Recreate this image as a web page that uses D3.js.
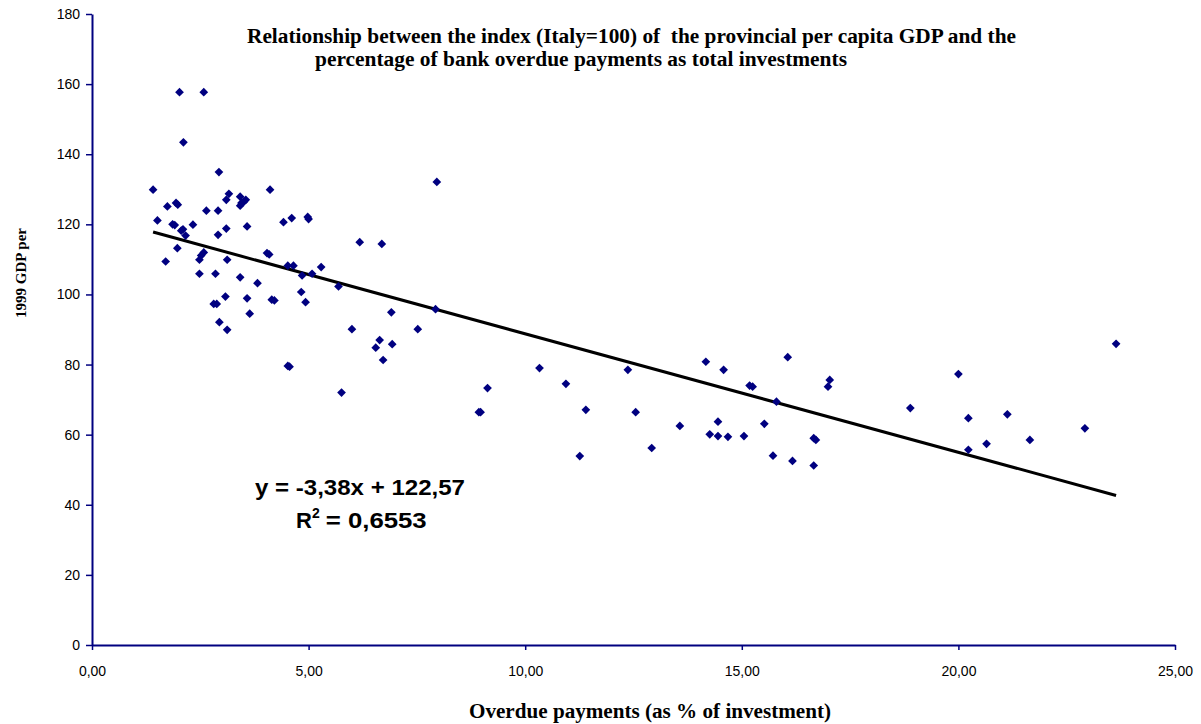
<!DOCTYPE html>
<html>
<head>
<meta charset="utf-8">
<script src="https://cdn.jsdelivr.net/npm/d3@7"></script>
<style>
    body { margin: 0; background: #ffffff; }
    svg { display: block; }
</style>
</head>
<body>
<svg id="svg"></svg>
<script>
// overdue payments (% of investment) for each province
let overdue = [
    1.41, 1.51, 1.74, 1.94, 1.98, 2.02, 2.58, 2.11, 2.93, 4.11,
    4.42, 4.61, 4.98, 5.00, 6.18, 6.69, 7.96, 3.16, 3.10, 3.42,
    3.55, 3.45, 3.42, 3.50, 3.58, 2.33, 2.64, 2.91, 2.91, 3.10,
    1.86, 1.91, 2.06, 2.10, 2.16, 1.97, 1.70, 2.58, 2.52, 2.48,
    3.12, 4.04, 4.09, 4.52, 4.65, 5.29, 2.48, 2.85, 3.42, 3.82,
    4.85, 5.08, 5.69, 4.83, 4.93, 3.08, 3.58, 2.81, 2.88, 4.15,
    4.21, 3.64, 2.94, 3.12, 7.93, 6.91, 7.52, 6.00, 6.64, 6.55,
    6.93, 6.72, 4.52, 4.56, 5.76, 9.13, 8.93, 8.97, 10.33, 10.94,
    11.40, 11.26, 12.37, 12.55, 12.92, 13.57, 14.17, 14.58, 14.45, 14.26,
    14.45, 14.68, 15.05, 15.18, 15.25, 15.52, 15.80, 16.06, 15.72, 16.17,
    16.66, 16.71, 16.66, 17.03, 16.99, 18.89, 20.00, 20.23, 20.23, 20.65,
    21.13, 21.65, 22.92, 23.64
];

// 1999 per capita GDP index (Italy=100), same order
let gdpIndex = [
    129.9, 121.1, 125.1, 126.1, 125.6, 157.7, 157.7, 143.4, 134.9, 129.9,
    120.6, 121.8, 122.1, 121.5, 114.9, 114.4, 132.1, 128.7, 127.0, 127.9,
    127.0, 126.1, 125.3, 126.4, 119.4, 119.9, 123.9, 123.9, 117.0, 118.8,
    120.0, 119.8, 118.2, 118.6, 116.8, 113.2, 109.4, 112.0, 111.1, 109.9,
    109.9, 111.8, 111.4, 108.2, 108.2, 107.8, 105.9, 105.9, 104.9, 103.2,
    105.4, 105.9, 102.3, 100.7, 97.8, 99.4, 98.9, 97.3, 97.3, 98.5,
    98.3, 94.5, 92.1, 89.9, 95.8, 94.9, 90.1, 90.1, 87.0, 84.8,
    85.8, 81.3, 79.6, 79.4, 72.0, 73.3, 66.4, 66.4, 79.0, 74.5,
    67.1, 53.9, 78.5, 66.4, 56.2, 62.5, 80.8, 78.5, 63.7, 60.1,
    59.6, 59.4, 59.6, 74.0, 73.7, 63.1, 69.4, 82.1, 54.0, 52.5,
    59.0, 58.5, 51.2, 75.6, 73.7, 67.6, 77.3, 64.7, 55.7, 57.4,
    65.8, 58.5, 61.8, 85.9
];

// linear trend shown on the chart
let slope = -3.38;
let intercept = 122.57;
let rSquared = "0,6553";

let xTicks = [0, 5, 10, 15, 20, 25];
let yTicks = [0, 20, 40, 60, 80, 100, 120, 140, 160, 180];

const width = 1201;
const height = 724;

let svg = d3.select("#svg")
    .attr("width", width)
    .attr("height", height);

svg.append("rect")
    .attr("width", width)
    .attr("height", height)
    .attr("fill", "#ffffff");

const margin = { top: 14, right: 30, bottom: 79, left: 92 };

let xScale = d3.scaleLinear()
    .domain([0, 25])
    .range([margin.left, 1175]);

let yScale = d3.scaleLinear()
    .domain([0, 180])
    .range([height - margin.bottom, margin.top]);

// numbers with a decimal comma (and a plain hyphen for minus, like the original)
let itLocale = d3.formatLocale({ decimal: ",", thousands: ".", grouping: [3], currency: ["", "€"], minus: "-" });
let fmt2 = itLocale.format(".2f");

let axisColor = "#000080";

// y axis
let yAxis = svg.append("g")
    .attr("transform", `translate(${margin.left},0)`)
    .call(d3.axisLeft(yScale).tickValues(yTicks).tickSize(6).tickPadding(6).tickSizeOuter(0));

// x axis
let xAxis = svg.append("g")
    .attr("transform", `translate(0,${yScale(0)})`)
    .call(d3.axisBottom(xScale).tickValues(xTicks).tickFormat(fmt2).tickSize(5).tickPadding(16).tickSizeOuter(0));

[xAxis, yAxis].forEach(function (g) {
    g.select(".domain").attr("stroke", axisColor).attr("stroke-width", 2);
    g.selectAll(".tick line").attr("stroke", axisColor).attr("stroke-width", 1.5);
    g.selectAll(".tick text")
        .attr("fill", "#000000")
        .style("font-family", "Liberation Sans, Arial, sans-serif")
        .style("font-size", "14px");
});

// trend line across the data range
let xMin = d3.min(overdue);
let xMax = d3.max(overdue);
let trend = [xMin, xMax].map(x => [x, slope * x + intercept]);

svg.append("path")
    .datum(trend)
    .attr("fill", "none")
    .attr("stroke", "#000000")
    .attr("stroke-width", 3)
    .attr("d", d3.line().x(d => xScale(d[0])).y(d => yScale(d[1])));

// diamond markers
let points = overdue.map((x, i) => ({ x: x, y: gdpIndex[i] }));
let diamond = d3.symbol().type(d3.symbolSquare).size(38);

svg.append("g")
    .selectAll("path")
    .data(points)
    .enter()
    .append("path")
        .attr("d", diamond)
        .attr("transform", d => `translate(${xScale(d.x)},${yScale(d.y)}) rotate(45)`)
        .attr("fill", "#000080");

// title, stretched to the width of the original lines
let serif = "Liberation Serif, Times New Roman, serif";

svg.append("text")
    .attr("x", 247)
    .attr("y", 43)
    .attr("textLength", 769)
    .attr("lengthAdjust", "spacingAndGlyphs")
    .attr("xml:space", "preserve")
    .style("font-family", serif)
    .style("font-weight", "bold")
    .style("font-size", "20px")
    .text("Relationship between the index (Italy=100) of  the provincial per capita GDP and the");

svg.append("text")
    .attr("x", 315)
    .attr("y", 66)
    .attr("textLength", 532)
    .attr("lengthAdjust", "spacingAndGlyphs")
    .style("font-family", serif)
    .style("font-weight", "bold")
    .style("font-size", "20px")
    .text("percentage of bank overdue payments as total investments");

// axis titles
svg.append("text")
    .attr("x", 469)
    .attr("y", 718)
    .attr("textLength", 362)
    .attr("lengthAdjust", "spacingAndGlyphs")
    .style("font-family", serif)
    .style("font-weight", "bold")
    .style("font-size", "20px")
    .text("Overdue payments (as % of investment)");

svg.append("text")
    .attr("transform", "translate(26,318) rotate(-90)")
    .attr("textLength", 90)
    .attr("lengthAdjust", "spacingAndGlyphs")
    .style("font-family", serif)
    .style("font-weight", "bold")
    .style("font-size", "15px")
    .text("1999 GDP per");

// regression equation
let eq = svg.append("g")
    .style("font-family", "Liberation Sans, Arial, sans-serif")
    .style("font-weight", "bold")
    .style("font-size", "22px")
    .attr("fill", "#000000");

eq.append("text")
    .attr("x", 255)
    .attr("y", 495)
    .attr("textLength", 210)
    .attr("lengthAdjust", "spacingAndGlyphs")
    .attr("xml:space", "preserve")
    .text("y = " + fmt2(slope) + "x + " + fmt2(intercept));

let r2 = eq.append("text")
    .attr("x", 296)
    .attr("y", 528);
r2.append("tspan").text("R");
r2.append("tspan").attr("dy", -10).style("font-size", "14px").text("2");
r2.append("tspan")
    .attr("dy", 10)
    .attr("dx", 6)
    .attr("textLength", 101)
    .attr("lengthAdjust", "spacingAndGlyphs")
    .attr("xml:space", "preserve")
    .text("= " + rSquared);
</script>
</body>
</html>
